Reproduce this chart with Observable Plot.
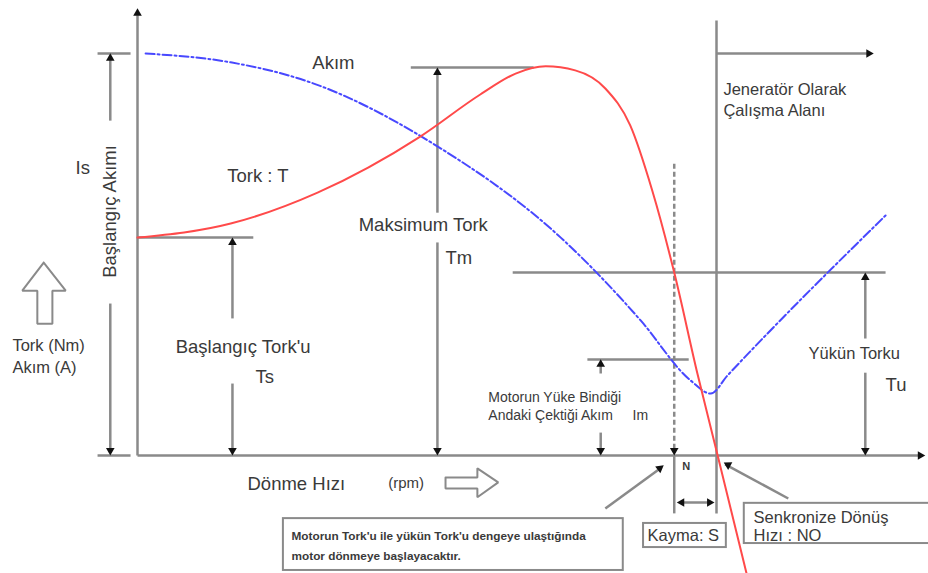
<!DOCTYPE html>
<html><head><meta charset="utf-8">
<script src="https://cdn.jsdelivr.net/npm/d3@7"></script>
<script src="https://cdn.jsdelivr.net/npm/@observablehq/plot@0.6"></script>
<style>body{margin:0;background:#fff}</style>
</head><body><div id="chart"></div>
<script>
// Speed in % of synchronous speed, torque/current in % of starting current Is
const torqueSpeed = [0, 16.1, 31.1, 48.9, 59.2, 65.3, 70.5, 75.6, 80.8, 85.1, 88.9, 92.7, 96.7, 100.2, 105.2];
const torqueValue = [54.2, 57.7, 65.4, 79.4, 89.8, 95.0, 96.8, 95.8, 91.3, 82.1, 65.9, 45.5, 20.4, 0, -29.4];
const currentSpeed = [1.4, 16.1, 29.9, 51.8, 73.1, 86.9, 95.5, 99.0, 101.9, 129.2];
const currentValue = [100, 97.8, 92.8, 76.9, 54.2, 33.6, 18.7, 15.4, 19.9, 59.7];

// guide lines [x1, y1, x2, y2]
const guideLines = [
  [0,0,0,109.5],[0,0,135,0],
  [-6.9,100,-1.2,100],[-6.9,0,-1.2,0],[-4.7,83.3,-4.7,99],[-4.7,37.8,-4.7,1],
  [0,54.2,20,54.2],[16.4,34.1,16.4,53],[16.4,17.9,16.4,1],
  [47.2,96.5,68.4,96.5],[51.8,60.4,51.8,95],[51.8,53,51.8,1],
  [64.8,45.5,129.2,45.5],[125.7,29.1,125.7,44],[125.7,20.6,125.7,1],
  [77.7,23.9,95.2,23.9],[80,20.4,80,23],[80,5.7,80,1],
  [100,108.2,100,-14.4],[100,100,126,100],
  [92.7,0,92.7,-14.4],[93.6,-11.7,99.2,-11.7],
  [112.4,-10.7,101.5,-2.2],[80.8,-13.2,90.5,-3]
];
const dashedLines = [[92.7,72.6,92.7,1]];
// arrow tips [x, y, angle]
const arrowTips = [
  [0,110,0],[135.2,0,90],[-4.7,98.8,0],[-4.7,1.24,180],
  [16.4,53.0,0],[16.4,1.24,180],[51.8,95.3,0],[51.8,1.24,180],
  [125.7,44.3,0],[125.7,1.24,180],[80,22.7,0],[80,1.24,180],
  [92.7,1.24,180],[126.3,100,90],[94.0,-11.7,270],[98.8,-11.7,90],
  [102.0,-2.34,-61],[90.2,-3.2,53]
];
// hollow arrows [shape, x, y]
const hollowArrows = [
  ["up",-16.2,48],["up",-12.4,41],["up",-14.7,41],["up",-14.7,32.8],["up",-17.3,32.8],["up",-17.3,41],["up",-19.9,41],["up",-16.2,48],
  ["right",53.2,-5.5],["right",58.7,-5.5],["right",58.7,-3.2],["right",62.3,-6.7],["right",58.7,-10.4],["right",58.7,-8.2],["right",53.2,-8.2],["right",53.2,-5.5]
];
// boxes [x1, x2, y1, y2]
const boxes = [[25.2,83.9,-15.7,-28.6],[87.4,101.7,-16.9,-22.9],[104.8,137,-11.9,-21.9]];

const bigLabels = [
  ["Is",-10.7,71.6],["Akım",30.2,97.5],["Tork : T",15.5,69.4],["Başlangıç Tork'u",6.6,26.9],
  ["Ts",20.4,19.4],["Maksimum Tork",38.2,57.2],["Tm",53.2,49.0],["Tu",129.2,17.4],
  ["Dönme Hızı",19.0,-7.0]
];
const midLabels = [
  ["Tork (Nm)",-21.6,27.4],["Akım (A)",-21.6,21.9],["Jeneratör Olarak",101.2,91.0],["Çalışma Alanı",101.2,85.8],
  ["Yükün Torku",115.9,25.4],["Kayma: S",88.1,-19.9],["Senkronize Dönüş",106.4,-15.4],["Hızı : NO",106.4,-19.9]
];
const unitLabels = [["(rpm)",43.3,-7.0]];
const smallLabels = [["Motorun Yüke Bindiği",60.6,14.4],["Andaki Çektiği Akım",60.6,10.0],["Im",85.5,10.0]];
const noteLabels = [
  ["Motorun Tork'u ile yükün Tork'u dengeye ulaştığında",26.6,-20.1],
  ["motor dönmeye başlayacaktır.",26.6,-25.1]
];
const tinyLabels = [["N",94.1,-2.7]];
const axisTitle = [["Başlangıç Akımı",-4.7,60.7]];

const torque = torqueSpeed.map((s,i)=>({s, v: torqueValue[i]}));
const current = currentSpeed.map((s,i)=>({s, v: currentValue[i]}));
const gray = "#8a8a8a", ink = "#3a3a3a";
const txt = (data, opts) => Plot.text(data, {x: d=>d[1], y: d=>d[2], text: d=>d[0], textAnchor: "start", fill: ink, ...opts});

const chart = Plot.plot({
  width: 928, height: 573, margin: 0,
  x: {domain: [-137/5.79, (928-137)/5.79], axis: null},
  y: {domain: [-(573-455)/4.02, 455/4.02], axis: null},
  style: {fontFamily: "Liberation Sans, Arial, sans-serif", background: "#fff"},
  marks: [
    Plot.link(guideLines, {x1: d=>d[0], y1: d=>d[1], x2: d=>d[2], y2: d=>d[3], stroke: gray, strokeWidth: 2.5}),
    Plot.link(dashedLines, {x1: d=>d[0], y1: d=>d[1], x2: d=>d[2], y2: d=>d[3], stroke: gray, strokeWidth: 2.5, strokeDasharray: "5,3"}),
    Plot.line(hollowArrows, {x: d=>d[1], y: d=>d[2], z: d=>d[0], stroke: gray, strokeWidth: 2, strokeLinejoin: "miter"}),
    Plot.rect(boxes, {x1: d=>d[0], x2: d=>d[1], y1: d=>d[2], y2: d=>d[3], fill: "#fff", stroke: gray, strokeWidth: 2}),
    Plot.line(current, {x: "s", y: "v", stroke: "#4848ff", strokeWidth: 2, strokeDasharray: "9,3,2,3", curve: "monotone-x"}),
    Plot.line(torque, {x: "s", y: "v", stroke: "#ff4a4a", strokeWidth: 2, curve: "monotone-x"}),
    Plot.dot(arrowTips, {x: d=>d[0], y: d=>d[1], rotate: d=>d[2], symbol: "triangle", r: 3.2, fill: "#111", stroke: "none"}),
    txt(bigLabels, {fontSize: 18.5}),
    txt(midLabels, {fontSize: 16.5}),
    txt(unitLabels, {fontSize: 15}),
    txt(smallLabels, {fontSize: 14}),
    txt(noteLabels, {fontSize: 11.8, fontWeight: "bold"}),
    txt(tinyLabels, {fontSize: 11, fontWeight: "bold"}),
    Plot.text(axisTitle, {x: d=>d[1], y: d=>d[2], text: d=>d[0], rotate: -90, fill: ink, fontSize: 18.5})
  ]
});
document.getElementById("chart").append(chart);
</script>
</body></html>
